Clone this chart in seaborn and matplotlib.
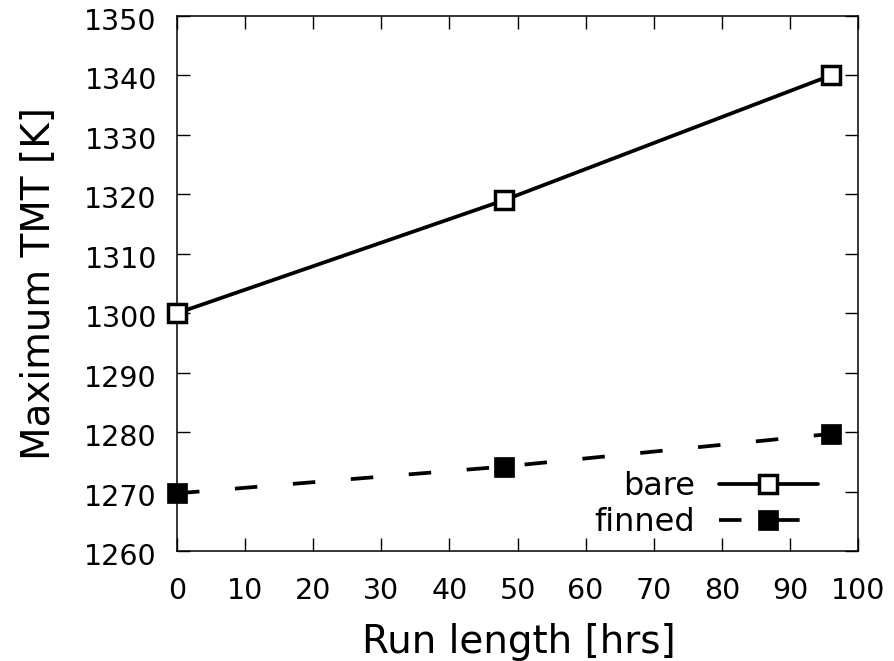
import matplotlib
matplotlib.use("Agg")
import matplotlib.pyplot as plt
import matplotlib.transforms as mtrans
import seaborn as sns
import pandas as pd

run_length = [0, 48, 96]
bare_tmt = [1300, 1319, 1340]
finned_tmt = [1269.7, 1274.2, 1279.7]
x_ticks = list(range(0, 101, 10))
y_ticks = list(range(1260, 1351, 10))

sns.set_style("ticks")
plt.rcParams['font.family'] = ['DejaVu Sans']
plt.rcParams['text.color'] = 'black'
plt.rcParams['axes.labelcolor'] = 'black'

fig = plt.figure(figsize=(8.94, 6.61), dpi=100)
ax = fig.add_axes([177/894, 1-551/661, 681/894, 535/661])

df_bare = pd.DataFrame({"x": run_length, "y": bare_tmt})
df_fin = pd.DataFrame({"x": run_length, "y": finned_tmt})

sns.lineplot(data=df_bare, x="x", y="y", ax=ax, color="black", linewidth=2.7,
             marker="s", markersize=12.5, markerfacecolor="white",
             markeredgecolor="black", markeredgewidth=2.5, label="bare",
             clip_on=False, zorder=3)
sns.lineplot(data=df_fin, x="x", y="y", ax=ax, color="black", linewidth=2.7,
             linestyle=(0, (6, 9.5)), marker="s", markersize=15,
             markerfacecolor="black", markeredgecolor="black",
             markeredgewidth=0.5, label="finned", clip_on=False, zorder=3)

ax.set_xlim(0, 100)
ax.set_ylim(1260, 1350)
ax.set_xticks(x_ticks)
ax.set_yticks(y_ticks)
ax.tick_params(direction="in", length=9.5, width=1, top=True, right=True,
               labelsize=20.5, colors="black")
ax.tick_params(axis="x", pad=18.5)
ax.tick_params(axis="y", pad=14.5)
for s in ax.spines.values():
    s.set_linewidth(1.1)
    s.set_color("black")

off = mtrans.ScaledTranslation(0, -3/100, fig.dpi_scale_trans)
for lab in ax.get_yticklabels():
    lab.set_transform(lab.get_transform() + off)

ax.set_xlabel("Run length [hrs]", fontsize=28)
ax.set_ylabel("Maximum TMT [K]", fontsize=28)
ax.xaxis.set_label_coords(0.502, -0.1346)
ax.yaxis.set_label_coords(-0.175, 0.5)

leg = ax.legend(loc="lower right", bbox_to_anchor=(0.941, 0.024),
                borderaxespad=0, borderpad=0, frameon=False, markerfirst=False,
                fontsize=23, handlelength=3.1, handletextpad=0.75,
                labelspacing=0.15)

fig.savefig("out.png", dpi=100)
